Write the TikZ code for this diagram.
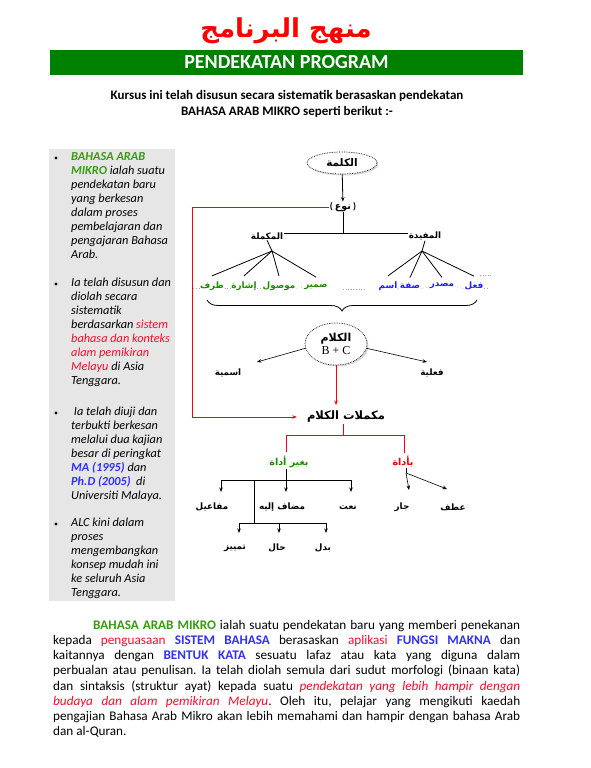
\documentclass[tikz,border=0pt]{standalone}
\usepackage{fontspec}
\setmainfont{Carlito}
\newfontfamily\arabicfont[Script=Arabic,BoldFont={DejaVu Sans Bold}]{DejaVu Sans}
\newfontfamily\bcserif{Liberation Serif}
\TeXXeTstate=1
\usetikzlibrary{arrows.meta,shadows,shapes.geometric,decorations.pathreplacing,calc}
\definecolor{barGreen}{HTML}{008000}
\definecolor{panelGray}{HTML}{E6E6E6}
\definecolor{txtRed}{HTML}{FF0A2A}
\definecolor{txtBlue}{HTML}{3030FF}
\definecolor{txtGreen}{HTML}{3A9A14}
\definecolor{arGreen}{HTML}{1E8C00}
\definecolor{arBlue}{HTML}{2020FF}
\newcommand\artxt[1]{{\arabicfont\bfseries\beginR #1\endR}}
\begin{document}
\begin{tikzpicture}[x=1pt,y=-1pt,
  arlab/.style={font=\arabicfont\bfseries\fontsize{8.8}{10}\selectfont, inner sep=0.5pt},
  arbig/.style={font=\arabicfont\bfseries\fontsize{10.5}{12}\selectfont, inner sep=1pt},
  blk/.style={line width=0.8pt},
  redln/.style={draw=red, line width=0.9pt},
  tip/.style={-{Stealth[length=4.5pt,width=3.5pt]}},
  elli/.style={ellipse, draw, densely dotted, fill=white, line width=0.7pt, inner sep=1pt,
    drop shadow={shadow xshift=1.5pt,shadow yshift=-1.5pt,opacity=0.3}},
  leader/.style={dotted, draw=gray!70, line width=0.6pt},
  sidetext/.style={font=\itshape\fontsize{12.3}{14}\selectfont, align=left, anchor=north west, inner sep=0pt},
  bulletdot/.style={circle, fill=black, inner sep=0pt, minimum size=3.4pt}
]
\useasboundingbox (0,0) rectangle (590,768);
\fill[white] (0,0) rectangle (590,768);

% ---------- header ----------
\node[text=red, font=\arabicfont\bfseries\fontsize{26}{30}\selectfont] (title) at (286,31) {\beginR منهج البرنامج\endR};
\node[fill=barGreen, minimum width=473pt, minimum height=25pt, inner sep=0pt, text=white,
  font=\bfseries\fontsize{20}{22}\selectfont] (bar) at (286.5,62.5) {PENDEKATAN PROGRAM};
\node[font=\bfseries\fontsize{13}{16}\selectfont, align=center] (sub) at (287,104)
  {Kursus ini telah disusun secara sistematik berasaskan pendekatan\\BAHASA ARAB MIKRO seperti berikut :-};

% ---------- side panel ----------
\node[fill=panelGray, minimum width=126pt, minimum height=452pt, anchor=north west, inner sep=0pt] (panel) at (49,149) {};
\node[bulletdot] (d1) at (56,158) {};
\node[bulletdot] (d2) at (56,284) {};
\node[bulletdot] (d3) at (56,413) {};
\node[bulletdot] (d4) at (56,524) {};
\node[sidetext] (b1) at (71,152) {{\color{txtGreen}\bfseries BAHASA ARAB}\\
  {\color{txtGreen}\bfseries MIKRO} ialah suatu\\ pendekatan baru\\ yang berkesan\\ dalam proses\\
  pembelajaran dan\\ pengajaran Bahasa\\ Arab.};
\node[sidetext] (b2) at (71,278) {Ia telah disusun dan\\ diolah secara\\ sistematik\\
  berdasarkan {\color{txtRed}sistem}\\ {\color{txtRed}bahasa dan konteks}\\ {\color{txtRed}alam pemikiran}\\
  {\color{txtRed}Melayu} di Asia\\ Tenggara.};
\node[sidetext] (b3) at (71,407) {\ Ia telah diuji dan\\ terbukti berkesan\\ melalui dua kajian\\
  besar di peringkat\\ {\color{txtBlue}\bfseries MA (1995)} dan\\ {\color{txtBlue}\bfseries Ph.D (2005)}\ \ di\\
  Universiti Malaya.};
\node[sidetext] (b4) at (71,518) {ALC kini dalam\\ proses\\ mengembangkan\\ konsep mudah ini\\
  ke seluruh Asia\\ Tenggara.};

% ---------- tree ----------
\node[elli, arbig, minimum width=70pt, minimum height=22pt] (kalimah) at (342,163) {\artxt{الكلمة}};
\node[arlab, font=\bfseries\fontsize{9.5}{10}\selectfont] (naw) at (343,207) {(\ \artxt{نوع}\ )};
\draw[blk, tip] (kalimah) -- (naw);

\node[arlab] (mkm) at (267,236) {\artxt{المكملة}};
\node[arlab] (mfd) at (425,236) {\artxt{المفيدة}};
\coordinate (hj) at (343,233);
\draw[blk] (naw.south) -- (hj);
\draw[blk] (mkm.east |- hj) -- (mfd.west |- hj);

% words
\node[arlab, text=arGreen] (zarf) at (212,286) {\artxt{ظرف}};
\node[arlab, text=arGreen] (isyr) at (244,286) {\artxt{إشارة}};
\node[arlab, text=arGreen] (maws) at (279,286) {\artxt{موصول}};
\node[arlab, text=arGreen] (dham) at (316,286) {\artxt{ضمير}};
\node[arlab, text=arBlue] (ism) at (388,286) {\artxt{اسم}};
\node[arlab, text=arBlue] (sifa) at (410,286) {\artxt{صفة}};
\node[arlab, text=arBlue] (masd) at (442,286) {\artxt{مصدر}};
\node[arlab, text=arBlue] (fil) at (474,286) {\artxt{فعل}};
\coordinate (apL) at (272,251);
\coordinate (apR) at (422,251);
\draw[blk] (mkm.south) -- (apL);
\draw[blk] (mfd.south) -- (apR);
\foreach \w in {zarf,isyr,maws,dham}{\draw[blk] (apL) -- ([yshift=5pt]\w.north);}
\foreach \w in {ism,sifa,masd,fil}{\draw[blk] (apR) -- ([yshift=5pt]\w.north);}
\draw[leader] ([xshift=-6pt]zarf.base west) -- (zarf.base west);
\draw[leader] (zarf.base east) -- (isyr.base west);
\draw[leader] (isyr.base east) -- (maws.base west);
\draw[leader] (maws.base east) -- (dham.base west);
\draw[leader] (ism.base east) -- (sifa.base west);
\draw[leader] (sifa.base east) -- (masd.base west);
\draw[leader] (masd.base east) -- (fil.base west);
\draw[leader] (fil.base east) -- ++(3,0);
\coordinate (midA) at (343,289);
\coordinate (midB) at (364,289);
\draw[leader] (midA) -- (midB);
\coordinate (topA) at (480,275);
\coordinate (topB) at (492,275);
\draw[leader] (topA) -- (topB);

% brace
\coordinate (brR) at (477,300);
\coordinate (brL) at (207,300);
\draw[blk, decorate, decoration={brace, amplitude=11pt}] (brR) -- (brL);

% kalam
\node[elli, minimum width=62pt, minimum height=42pt, align=center] (kalam) at (336,344)
  {{\arabicfont\bfseries\fontsize{11}{12}\selectfont\beginR الكلام\endR}\\[1pt]{\bcserif\fontsize{12}{12}\selectfont B + C}};
\node[arlab] (ismy) at (228,373) {\artxt{اسمية}};
\node[arlab] (fily) at (432,373) {\artxt{فعلية}};
\coordinate (tipL) at (257,362);
\coordinate (tipR) at (427,362);
\draw[line width=0.6pt, tip] (kalam.188) -- (tipL);
\draw[line width=0.6pt, tip] (kalam.-8) -- (tipR);

\node[font=\arabicfont\bfseries\fontsize{11.5}{13}\selectfont, inner sep=1pt] (mk) at (346,417) {\beginR مكملات الكلام\endR};
\draw[redln, tip] (kalam.south) -- ([yshift=5pt]mk.north -| kalam.south);
\coordinate (redc) at (192,210);
\draw[redln, tip] (naw.west) -- (naw.west -| redc) |- ([xshift=-9pt]mk.west);

% mukammilat branches
\node[arlab, text=arGreen, font=\arabicfont\bfseries\fontsize{9.5}{10}\selectfont] (bgh) at (289,462) {\beginR بغير أداة\endR};
\node[arlab, text=red, font=\arabicfont\bfseries\fontsize{9.5}{10}\selectfont] (bad) at (403,462) {\artxt{بأداة}};
\coordinate (rj) at (343,435);
\coordinate (rjL) at (286,435);
\coordinate (rjR) at (404,435);
\draw[redln] (mk.south -| rj) -- (rj);
\draw[redln] (rjL) -- (rjR);
\draw[redln] (rjL) -- ([yshift=3pt]bgh.north -| rjL);
\draw[redln] (rjR) -- ([yshift=3pt]bad.north -| rjR);

% without tool
\node[arlab] (mfa) at (212,507) {\artxt{مفاعيل}};
\node[arlab] (mdf) at (282,507) {\beginR{\arabicfont\bfseries مضاف إليه}\endR};
\node[arlab] (nat) at (348,507) {\artxt{نعت}};
\node[arlab] (tmy) at (235,548) {\artxt{تمييز}};
\node[arlab] (hal) at (277,548) {\artxt{حال}};
\node[arlab] (bdl) at (323,548) {\artxt{بدل}};
\coordinate (g1) at (286,480);
\coordinate (g1L) at (221,480);
\coordinate (g1R) at (351,480);
\coordinate (g2) at (254,480);
\coordinate (g3) at (254,523);
\coordinate (g3L) at (239,523);
\coordinate (g3R) at (326,523);
\coordinate (g3M) at (279,523);
\draw[blk] (bgh.south -| g1) -- (g1);
\draw[blk] (g1L) -- (g1R);
\draw[blk, tip] (g1L) -- ++(0,12);
\draw[blk, tip] (g1) -- ++(0,12);
\draw[blk, tip] (g1R) -- ++(0,12);
\draw[blk] (g2) -- (g3);
\draw[blk] (g3L) -- (g3R);
\draw[blk, tip] (g3L) -- ++(0,10);
\draw[blk, tip] (g3M) -- ++(0,10);
\draw[blk, tip] (g3R) -- ++(0,10);

% with tool
\node[arlab] (jar) at (402,507) {\artxt{جار}};
\node[arlab] (atf) at (453,507) {\artxt{عطف}};
\coordinate (bs) at (406,473);
\coordinate (jtip) at (409,490);
\coordinate (atip) at (447,489);
\draw[line width=0.6pt] (bad.south -| bs) -- (bs);
\draw[line width=0.6pt, tip] (bs) -- (jtip);
\draw[line width=0.6pt, tip] (bs) -- (atip);

% ---------- paragraph ----------
\node[anchor=north west, inner sep=0pt, text width=467pt, align=justify,
  font=\fontsize{13.2}{15.2}\selectfont] (para) at (53,620)
{\frenchspacing\hspace*{40pt}{\color{txtGreen}\bfseries BAHASA ARAB MIKRO} ialah suatu pendekatan baru yang memberi penekanan\linebreak
kepada {\color{txtRed}penguasaan} {\color{txtBlue}\bfseries SISTEM BAHASA} berasaskan {\color{txtRed}aplikasi} {\color{txtBlue}\bfseries FUNGSI MAKNA} dan\linebreak
kaitannya dengan {\color{txtBlue}\bfseries BENTUK KATA} sesuatu lafaz atau kata yang diguna dalam\linebreak
perbualan atau penulisan. Ia telah diolah semula dari sudut morfologi (binaan kata)\linebreak
dan sintaksis (struktur ayat) kepada suatu {\color{txtRed}\itshape pendekatan yang lebih hampir dengan}\linebreak
{\color{txtRed}\itshape budaya dan alam pemikiran Melayu}. Oleh itu, pelajar yang mengikuti kaedah\linebreak
pengajian Bahasa Arab Mikro akan lebih memahami dan hampir dengan bahasa Arab\linebreak
dan al-Quran.};
\end{tikzpicture}
\end{document}
